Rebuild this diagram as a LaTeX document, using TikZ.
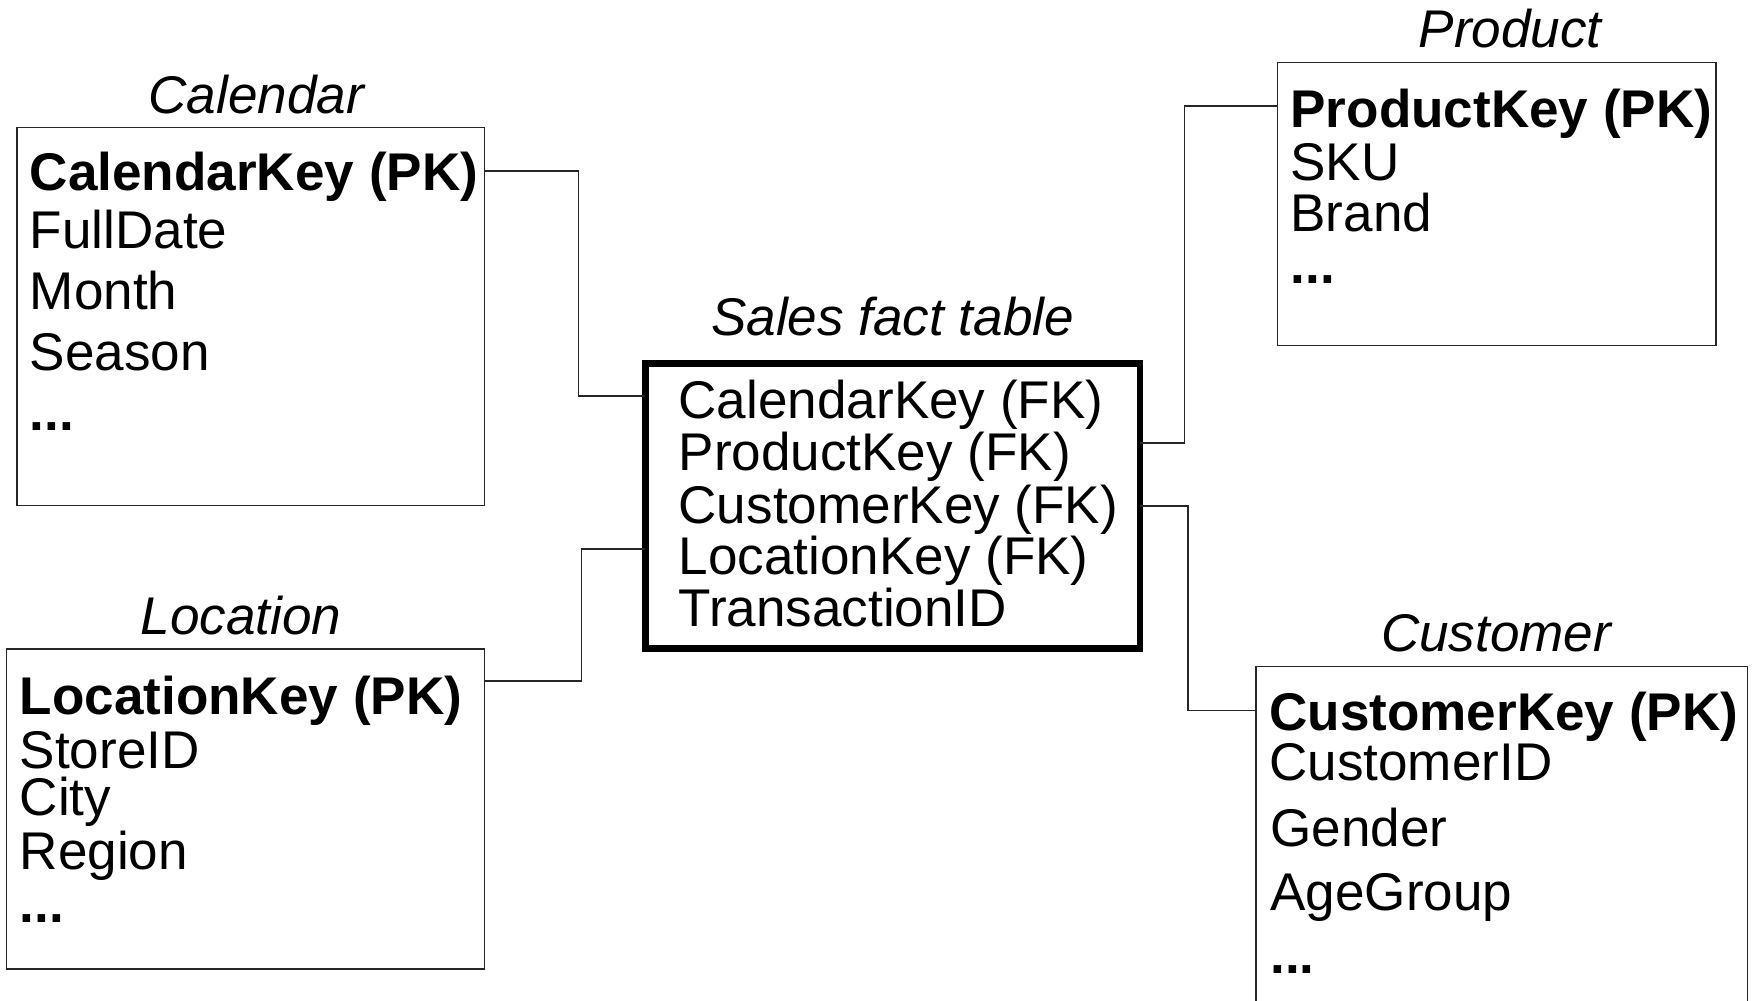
\documentclass[tikz,border=0pt]{standalone}
\usepackage{fontspec}
\setmainfont{Liberation Sans}
\usetikzlibrary{positioning}

\begin{document}
\begin{tikzpicture}[x=0.1mm,y=-0.1mm,
    table/.style={draw=black!85,line width=0.4pt,inner sep=0pt,outer sep=0pt,anchor=north west},
    facttable/.style={draw,line width=1.7pt,inner sep=0pt,outer sep=0pt,anchor=north west},
    title/.style={font=\fontsize{13.5}{15}\selectfont\itshape,inner sep=0pt},
    field/.style={font=\fontsize{13.5}{15}\selectfont,anchor=base west,inner sep=0pt},
    key/.style={field,font=\fontsize{13.5}{15}\selectfont\bfseries},
    more/.style={key},
    link/.style={draw=black!85,line width=0.4pt}]
  \useasboundingbox (0,0) rectangle (1568,894);

  % tables
  \node[table,minimum width=41.8mm,minimum height=33.8mm] (cal) at (15,114) {};
  \node[table,minimum width=42.7mm,minimum height=28.6mm] (loc) at (6,580) {};
  \node[facttable,minimum width=44.2mm,minimum height=25.5mm] (fact) at (577,325) {};
  \node[table,minimum width=39.2mm,minimum height=25.3mm] (prod) at (1142,56) {};
  \node[table,minimum width=43.9mm,minimum height=31mm] (cust) at (1123,596) {};

  % titles
  \node[title,above=1.1mm of cal,xshift=0.5mm] (calt) {Calendar};
  \node[title,above=1.2mm of loc,xshift=-0.4mm] (loct) {Location};
  \node[title,above=2.4mm of fact] (factt) {Sales fact table};
  \node[title,above=1.2mm of prod,xshift=1.2mm] (prodt) {Product};
  \node[title,above=1.2mm of cust,xshift=-0.5mm] (custt) {Customer};

  % Calendar
  \node[key] (calk) at (26,170) {CalendarKey (PK)};
  \node[field] (cal1) at (26,222) {FullDate};
  \node[field] (cal2) at (26,277) {Month};
  \node[field] (cal3) at (26,331) {Season};
  \node[more] (cal4) at (26,385) {...};

  % Location
  \node[key] (lock) at (17,639) {LocationKey (PK)};
  \node[field] (loc1) at (17,687) {StoreID};
  \node[field] (loc2) at (17,729) {City};
  \node[field] (loc3) at (17,777) {Region};
  \node[more] (loc4) at (17,825) {...};

  % Sales
  \node[field] (fact1) at (606,374) {CalendarKey (FK)};
  \node[field] (fact2) at (606,421) {ProductKey (FK)};
  \node[field] (fact3) at (606,468) {CustomerKey (FK)};
  \node[field] (fact4) at (606,514) {LocationKey (FK)};
  \node[field] (fact5) at (606,560) {TransactionID};

  % Product
  \node[key] (prodk) at (1153,114) {ProductKey (PK)};
  \node[field] (prod1) at (1153,161) {SKU};
  \node[field] (prod2) at (1153,207) {Brand};
  \node[more] (prod3) at (1153,253) {...};

  % Customer
  \node[key] (custk) at (1134,653) {CustomerKey (PK)};
  \node[field] (cust1) at (1134,698) {CustomerID};
  \node[field] (cust2) at (1135,757) {Gender};
  \node[field] (cust3) at (1135,814) {AgeGroup};
  \node[more] (cust4) at (1135,870) {...};

  % links
  \draw[link] ([yshift=-3.9mm]cal.north east) -- ++(84,0) |- ([yshift=-2.9mm]fact.north west);
  \draw[link] ([yshift=-2.9mm]loc.north east) -- ++(87,0) |- ([yshift=-16.6mm]fact.north west);
  \draw[link] ([yshift=-7.1mm]fact.north east) -- ++(40,0) |- ([yshift=-3.9mm]prod.north west);
  \draw[link] (fact.east) -- ++(43,0) |- ([yshift=-3.9mm]cust.north west);
\end{tikzpicture}
\end{document}
